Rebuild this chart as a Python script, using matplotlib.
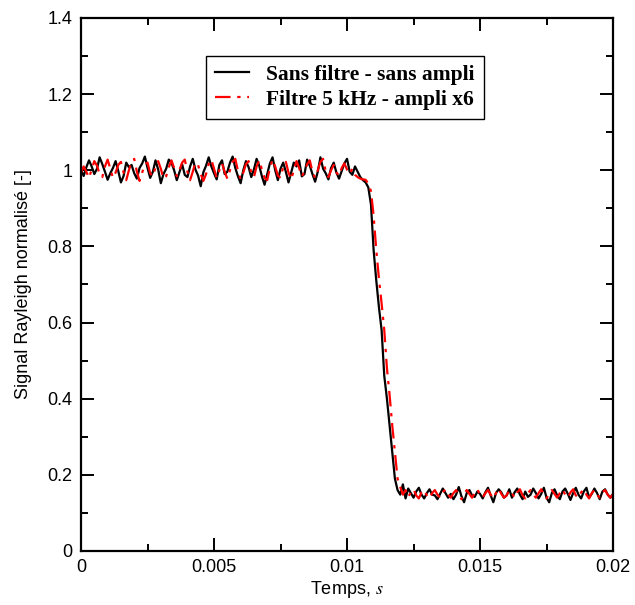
import numpy as np
import matplotlib.pyplot as plt

plt.rcParams['mathtext.fontset'] = 'stix'

# noir : sans filtre - sans ampli (pas de 0.1 ms)
black_pre = [
    1.000, 0.985, 1.008, 1.026, 1.010, 0.990, 1.004, 1.034, 1.016, 0.996,
    0.975, 0.992, 1.006, 1.024, 0.998, 0.968, 0.985, 1.020, 1.008, 1.014,
    0.992, 0.978, 1.006, 1.018, 1.036, 1.006, 0.980, 0.996, 1.026, 1.002,
    0.966, 0.990, 1.004, 1.028, 1.020, 1.000, 0.974, 0.995, 1.016, 0.988,
    0.982, 1.010, 1.030, 1.002, 0.986, 0.958, 0.995, 1.012, 1.034, 1.010,
    0.992, 0.976, 1.014, 1.026, 0.990, 0.996, 1.020, 1.036, 1.006, 0.984,
    0.966, 1.000, 1.024, 1.008, 0.982, 1.002, 1.030, 1.012, 0.984, 0.962,
    0.990, 1.018, 1.034, 1.000, 0.974, 1.004, 1.020, 0.996, 0.968, 0.994,
    1.020, 1.010, 1.026, 0.984, 0.990, 1.028, 1.012, 0.990, 0.970, 0.996,
    1.034, 1.004, 0.992, 0.976, 1.006, 1.020, 0.994, 0.978, 0.998, 1.018,
    1.030, 0.996, 0.988, 1.010, 0.996, 0.982, 0.974]
black_drop = [0.968, 0.955, 0.910, 0.790, 0.710, 0.640, 0.580, 0.460,
              0.400, 0.330, 0.260, 0.190, 0.160]
black_post = [
    0.148, 0.175, 0.138, 0.164, 0.152, 0.140, 0.156, 0.166, 0.148, 0.138,
    0.152, 0.162, 0.148, 0.146, 0.136, 0.150, 0.164, 0.152, 0.140, 0.150,
    0.136, 0.148, 0.168, 0.144, 0.128, 0.152, 0.160, 0.146, 0.142, 0.156,
    0.150, 0.138, 0.154, 0.166, 0.146, 0.128, 0.152, 0.162, 0.154, 0.140,
    0.146, 0.162, 0.140, 0.154, 0.164, 0.148, 0.136, 0.156, 0.142, 0.148,
    0.164, 0.152, 0.138, 0.150, 0.166, 0.140, 0.128, 0.152, 0.162, 0.146,
    0.136, 0.156, 0.164, 0.150, 0.134, 0.152, 0.166, 0.148, 0.138, 0.156,
    0.166, 0.140, 0.150, 0.164, 0.152, 0.136, 0.156, 0.162, 0.148, 0.140,
    0.150]

# rouge : filtre 5 kHz - ampli x6
red_pre = [
    0.995, 1.010, 0.996, 0.980, 1.002, 1.024, 1.012, 0.990, 0.982, 1.010,
    1.028, 1.004, 0.980, 0.994, 1.014, 1.022, 0.994, 0.974, 1.000, 1.022,
    1.030, 0.996, 0.972, 0.994, 1.016, 1.020, 0.992, 0.984, 1.008, 1.024,
    1.004, 0.978, 0.984, 1.008, 1.026, 1.006, 0.984, 1.000, 1.020, 1.028,
    0.996, 0.974, 0.996, 1.020, 1.014, 0.990, 0.972, 0.990, 1.016, 1.028,
    1.004, 0.980, 1.000, 1.018, 0.996, 0.978, 1.000, 1.022, 1.030, 0.998,
    0.976, 0.994, 1.016, 1.024, 0.994, 0.982, 1.010, 1.026, 1.002, 0.980,
    0.974, 1.006, 1.028, 1.010, 0.986, 0.980, 1.008, 1.022, 0.994, 0.976,
    1.000, 1.024, 1.006, 0.984, 0.996, 1.016, 1.026, 0.996, 0.980, 1.000,
    1.022, 1.030, 0.996, 0.982, 1.000, 1.014, 0.994, 0.986, 1.006, 1.018,
    1.002, 0.990, 1.004, 0.988, 0.982, 0.978, 0.976]
red_drop = [0.975, 0.965, 0.945, 0.880, 0.790, 0.715, 0.650, 0.580,
            0.480, 0.410, 0.330, 0.260, 0.190]
red_post = [
    0.168, 0.148, 0.160, 0.142, 0.154, 0.162, 0.146, 0.138, 0.154, 0.160,
    0.146, 0.138, 0.152, 0.160, 0.148, 0.140, 0.154, 0.162, 0.148, 0.140,
    0.152, 0.160, 0.146, 0.136, 0.150, 0.160, 0.150, 0.140, 0.152, 0.162,
    0.148, 0.140, 0.152, 0.160, 0.148, 0.138, 0.152, 0.164, 0.150, 0.140,
    0.146, 0.160, 0.152, 0.140, 0.154, 0.162, 0.146, 0.138, 0.152, 0.160,
    0.148, 0.140, 0.152, 0.162, 0.148, 0.138, 0.150, 0.160, 0.150, 0.140,
    0.152, 0.162, 0.148, 0.140, 0.154, 0.162, 0.146, 0.140, 0.154, 0.162,
    0.148, 0.138, 0.152, 0.160, 0.148, 0.140, 0.154, 0.160, 0.148, 0.140,
    0.150]

dt = 1e-4
black = np.array(black_pre + black_drop + black_post)
red = np.array(red_pre + red_drop + red_post)
t = np.arange(len(black)) * dt

fig = plt.figure(figsize=(6.35, 6.05), dpi=100)
ax = fig.add_axes([0.1276, 0.0893, 0.8378, 0.881])

ax.plot(t, black, color='black', lw=1.6, label='Sans filtre - sans ampli')
ax.plot(t, red, color='red', lw=1.6, dashes=(7, 3, 1.5, 3),
        label='Filtre 5 kHz - ampli x6')

ax.set_xlim(0, 0.02)
ax.set_ylim(0, 1.4)
ax.set_xticks([0, 0.005, 0.01, 0.015, 0.02])
ax.set_xticklabels(['0', '0.005', '0.01', '0.015', '0.02'])
ax.set_xticks(np.arange(0.0025, 0.02, 0.005), minor=True)
ax.set_yticks([0, 0.2, 0.4, 0.6, 0.8, 1.0, 1.2, 1.4])
ax.set_yticklabels(['0', '0.2', '0.4', '0.6', '0.8', '1', '1.2', '1.4'])
ax.set_yticks(np.arange(0.1, 1.4, 0.2), minor=True)

for s in ax.spines.values():
    s.set_linewidth(1.6)
ax.tick_params(which='both', direction='in', top=True, right=True, width=1.4,
               labelsize=13, pad=6)
ax.tick_params(which='major', length=9.5)
ax.tick_params(which='minor', length=5)
for lab in ax.get_xticklabels() + ax.get_yticklabels():
    lab.set_family('Liberation Sans')

ax.set_xlabel('Temps, $\\mathit{s}$', fontsize=13, family='Liberation Sans',
              labelpad=2)
ax.set_ylabel('Signal Rayleigh normalisé [-]', fontsize=13,
              family='Liberation Sans', labelpad=11)

leg = ax.legend(loc='center', bbox_to_anchor=(0.496, 0.87), fancybox=False,
                edgecolor='black', framealpha=1, handlelength=1.6,
                borderpad=0.4, labelspacing=0.25,
                prop={'family': 'Liberation Serif', 'weight': 'bold', 'size': 15.5})
leg.get_frame().set_linewidth(1.0)

fig.savefig('out.png', dpi=100)
